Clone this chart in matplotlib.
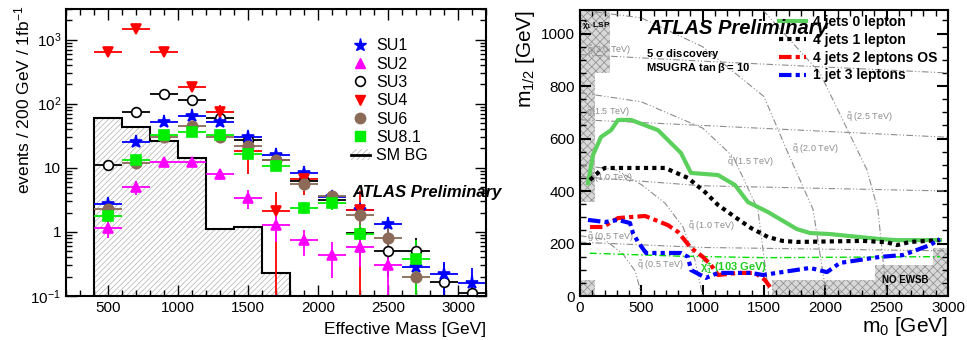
import numpy as np
import matplotlib.pyplot as plt
from matplotlib.lines import Line2D
from matplotlib.patches import Patch, Polygon
from matplotlib.ticker import MultipleLocator, FixedLocator, FixedFormatter, LogLocator, NullFormatter

plt.rcParams['font.family'] = ['Liberation Sans', 'DejaVu Sans']
plt.rcParams['mathtext.default'] = 'regular'
plt.rcParams['hatch.linewidth'] = 0.5

# ---------------- left panel data ----------------
edges = np.arange(400, 3201, 200)
centers = edges[:-1] + 100
sm_bg = [60, 44, 26, 14, 1.1, 1.2, 0.23, 0, 0, 0, 0, 0, 0, 0]

nan = np.nan
su1 = [2.7, 25, 52, 65, 52, 30, 16, 8.3, 3.5, 2.2, 1.33, 0.28, 0.22, 0.16]
su1_err = [0.7, 2, 3, 4, 3.5, 2.5, 2, 1.3, 0.8, 0.7, 0.4, 0.17, 0.12, 0.11]
su2 = [1.15, 5, 12.3, 12.3, 8, 3.4, 1.3, 0.75, 0.44, 0.58, 0.3, nan, nan, nan]
su2_err = [0.35, 1.2, 2, 2, 1.6, 1.1, 0.6, 0.33, 0.25, 0.3, 0.25, nan, nan, nan]
su3 = [11, 75, 144, 115, 60, 27, 13, 6.3, 3.1, 0.95, 0.5, 0.5, 0.165, 0.11]
su3_err = [1.5, 5, 8, 7, 5, 3, 2, 1.2, 0.8, 0.45, 0.3, 0.3, 0.15, 0.1]
su4 = [650, 1480, 640, 185, 75, 18, 2.1, 6.7, nan, 2.2, nan, nan, nan, nan]
su4_err = [60, 100, 60, 30, 20, 10, 2.1, 3, nan, 2.2, nan, nan, nan, nan]
su6 = [2.3, 12, 30, 45, 30, 22, 13, 5.6, 3.6, 1.85, 0.81, 0.2, nan, nan]
su6_err = [0.5, 1.5, 3, 4, 3, 2.5, 2, 1.2, 0.8, 0.55, 0.35, 0.15, nan, nan]
su81 = [1.8, 13, 32, 36, 32, 16.6, 10.5, 2.4, 2.8, 0.93, nan, 0.38, nan, nan]
su81_err = [0.45, 1.5, 2.5, 2.7, 2.5, 1.8, 1.4, 0.5, 0.6, 0.35, nan, 0.38, nan, nan]

# ---------------- right panel data ----------------
green_m0 = [65, 106, 171, 253, 310, 416, 636, 823, 905, 1125, 1263, 1369, 1532, 1768, 1875, 2038, 2445, 2584, 2934]
green_m12 = [430, 537, 606, 632, 671, 671, 632, 545, 469, 461, 423, 358, 320, 255, 240, 236, 217, 213, 213]
black_m0 = [81, 171, 204, 693, 880, 1019, 1125, 1263, 1394, 1532, 1650, 1768, 2306, 2500, 2584, 2690, 2934]
black_m12 = [442, 480, 488, 488, 450, 396, 347, 301, 259, 225, 210, 206, 210, 205, 194, 206, 213]
red_m0 = [81, 187, 310, 416, 530, 611, 717, 799, 905, 1002, 1068, 1125, 1288, 1426, 1508, 1549]
red_m12 = [263, 263, 297, 301, 305, 290, 270, 244, 183, 149, 118, 80, 88, 88, 61, 34]
blue_m0 = [65, 204, 310, 408, 432, 473, 538, 823, 880, 905, 1027, 1125, 1394, 1491, 1875, 2013, 2119, 2445, 2633, 2853, 2934]
blue_m12 = [290, 282, 290, 278, 240, 206, 164, 164, 149, 99, 69, 88, 88, 80, 107, 91, 126, 149, 156, 194, 217]
chargino_m0 = [80, 800, 1500, 2934]
chargino_m12 = [163, 152, 146, 150]

gluino_m0 = [0, 1000, 3000]
gluino_lines = {
    '0.5': [205, 185, 172],
    '1.0': [455, 420, 400],
    '1.5': [672, 650, 605],
    '2.0': [920, 895, 850],
}
squark_lines = {
    '0.5': ([0, 200, 350, 450, 505], [230, 215, 160, 95, 0]),
    '1.0': ([0, 300, 505, 693, 840, 937, 1000], [500, 480, 423, 354, 263, 137, 0]),
    '1.5': ([0, 500, 1000, 1250, 1450, 1540], [775, 740, 640, 530, 330, 0]),
    '2.0': ([0, 500, 1000, 1500, 1700, 1900, 2010], [1090, 1060, 950, 760, 540, 330, 0]),
    '2.5': ([1490, 1956, 2340, 2429, 2500], [1090, 850, 480, 328, 0]),
}
lsp_top = [(0, 850), (245, 850), (245, 1090), (0, 1090)]
lsp_strip = [(0, 360), (122, 360), (122, 850), (0, 850)]
lsp_bottom = [(0, 0), (122, 0), (122, 61), (0, 61)]
no_ewsb = [(1565, 0), (1565, 61), (2404, 61), (2404, 118), (2877, 118), (2877, 183), (3000, 183), (3000, 0)]

fig = plt.figure(figsize=(9.67, 3.4), dpi=100)
ax = fig.add_axes([66 / 967, 44 / 340, 420 / 967, 287 / 340])
ax2 = fig.add_axes([580 / 967, 44 / 340, 368 / 967, 286 / 340])

# ---- left: effective mass ----
sm_draw = np.maximum(sm_bg, 1e-3)
ax.stairs(sm_draw, edges, baseline=1e-3, fill=True, facecolor='white',
          edgecolor='#b0b0b0', hatch='//////', linewidth=0)
ax.stairs(sm_draw, edges, baseline=1e-3, color='black', linewidth=1.5)

series = [
    (su3, su3_err, 'o', 'black', 'white', 7, 'SU3'),
    (su1, su1_err, '*', 'blue', 'blue', 9.5, 'SU1'),
    (su4, su4_err, 'v', 'red', 'red', 7.5, 'SU4'),
    (su6, su6_err, 'o', '#8b6a57', '#8b6a57', 7.5, 'SU6'),
    (su81, su81_err, 's', '#00ee00', '#00ee00', 7, 'SU8.1'),
    (su2, su2_err, '^', 'magenta', 'magenta', 7.5, 'SU2'),
]
for vals, errs, mk, col, fc, ms, lab in series:
    ax.errorbar(centers, vals, xerr=100, yerr=errs, fmt=mk, color=col, mfc=fc,
                mec=col if fc != 'white' else 'black', ms=ms, elinewidth=1.3,
                capsize=0, mew=1.2)

ax.set_yscale('log')
ax.set_xlim(200, 3200)
ax.set_ylim(0.1, 3000)
ax.xaxis.set_major_locator(MultipleLocator(500))
ax.xaxis.set_minor_locator(MultipleLocator(100))
ax.yaxis.set_major_locator(FixedLocator([0.1, 1, 10, 100, 1000]))
ax.yaxis.set_major_formatter(FixedFormatter(['$10^{-1}$', '1', '10', '$10^{2}$', '$10^{3}$']))
ax.yaxis.set_minor_locator(LogLocator(base=10, subs=np.arange(2, 10)))
ax.yaxis.set_minor_formatter(NullFormatter())
ax.tick_params(which='both', direction='in', top=True, right=True, labelsize=11)
ax.tick_params(which='major', length=8, width=1)
ax.tick_params(which='minor', length=4, width=1)
for s in ax.spines.values():
    s.set_linewidth(1.5)
ax.set_ylabel('events / 200 GeV / 1fb$^{-1}$', fontsize=12.5)
ax.yaxis.set_label_coords(-0.08, 1.012)
ax.yaxis.label.set_ha('right')
ax.set_xlabel('Effective Mass [GeV]', fontsize=12.5, loc='right', labelpad=5)

leg_handles = [
    Line2D([], [], marker='*', color='blue', ls='none', ms=9.5),
    Line2D([], [], marker='^', color='magenta', ls='none', ms=7.5),
    Line2D([], [], marker='o', mfc='white', mec='black', ls='none', ms=7, mew=1.2),
    Line2D([], [], marker='v', color='red', ls='none', ms=7.5),
    Line2D([], [], marker='o', color='#8b6a57', ls='none', ms=7.5),
    Line2D([], [], marker='s', color='#00ee00', ls='none', ms=7),
    (Patch(facecolor='white', edgecolor='#b0b0b0', hatch='//////', lw=0),
     Line2D([], [], color='black', lw=2)),
]
leg_labels = ['SU1', 'SU2', 'SU3', 'SU4', 'SU6', 'SU8.1', 'SM BG']
ax.legend(leg_handles, leg_labels, loc='upper left', bbox_to_anchor=(0.678, 0.898),
          frameon=False, fontsize=11.5, handlelength=1.2, handletextpad=0.4,
          labelspacing=0.21, borderpad=0, borderaxespad=0)
ax.text(0.681, 0.345, 'ATLAS Preliminary', transform=ax.transAxes, fontsize=12,
        fontweight='bold', fontstyle='italic', clip_on=False)

# ---- right: mSUGRA reach ----
for poly in [lsp_top, lsp_strip, lsp_bottom, no_ewsb]:
    ax2.add_patch(Polygon(poly, closed=True, facecolor='#d8d8d8', edgecolor='#8a8a8a',
                          hatch='xxxx', lw=0, zorder=1))

gray_ls = (0, (6, 2, 1, 2, 1, 2))
for key, vals in gluino_lines.items():
    ax2.plot(gluino_m0, vals, color='#8c8c8c', lw=0.8, ls=gray_ls, zorder=2)
for key, (xs, ys) in squark_lines.items():
    ax2.plot(xs, ys, color='#8c8c8c', lw=0.8, ls=gray_ls, zorder=2)

lab_kw = dict(color='#8c8c8c', fontsize=6.5, zorder=3)
ax2.text(60, 925, r'$\tilde{g}$(2.0 TeV)', **lab_kw)
ax2.text(50, 690, r'$\tilde{g}$(1.5 TeV)', **lab_kw)
ax2.text(75, 440, r'$\tilde{g}$(1.0 TeV)', **lab_kw)
ax2.text(60, 215, r'$\tilde{g}$ (0.5 TeV)', **lab_kw)
ax2.text(465, 105, r'$\tilde{q}$ (0.5 TeV)', **lab_kw)
ax2.text(880, 255, r'$\tilde{q}$ (1.0 TeV)', **lab_kw)
ax2.text(1195, 500, r'$\tilde{q}$ (1.5 TeV)', **lab_kw)
ax2.text(1730, 548, r'$\tilde{q}$ (2.0 TeV)', **lab_kw)
ax2.text(2170, 670, r'$\tilde{q}$ (2.5 TeV)', **lab_kw)

ax2.plot(chargino_m0, chargino_m12, color='#00e000', lw=1, ls=(0, (5, 2, 1, 2)), zorder=3)
ax2.text(975, 95, r'$\tilde{\chi}^{\pm}_{1}$ (103 GeV)', color='#22cc22', fontsize=8,
         fontweight='bold', zorder=4)

l1, = ax2.plot(green_m0, green_m12, color='#5cd05c', lw=3, zorder=5)
l2, = ax2.plot(black_m0, black_m12, color='black', lw=3, ls=(0, (1, 1)), zorder=5)
l3, = ax2.plot(red_m0, red_m12, color='red', lw=3, ls=(0, (3, 1, 1, 1)), zorder=5)
l4, = ax2.plot(blue_m0, blue_m12, color='blue', lw=3, ls=(0, (3, 1, 1, 1, 1, 1)), zorder=5)

ax2.text(20, 1020, r'$\tilde{\chi}_1$ LSP', fontsize=6, fontweight='bold', zorder=4)
ax2.text(2650, 50, 'NO EWSB', fontsize=7, fontweight='bold', ha='center', zorder=4)
ax2.text(546, 998, 'ATLAS Preliminary', fontsize=14.5, fontweight='bold',
         fontstyle='italic', zorder=6)
ax2.text(538, 910, r'5 $\sigma$ discovery', fontsize=8, fontweight='bold', zorder=6)
ax2.text(538, 856, r'MSUGRA tan$\,\beta$ = 10', fontsize=8, fontweight='bold', zorder=6)

ax2.legend([l1, l2, l3, l4], ['4 jets 0 lepton', '4 jets 1 lepton', '4 jets 2 leptons OS',
                              '1 jet 3 leptons'],
           loc='upper left', bbox_to_anchor=(0.54, 0.982), frameon=False,
           prop=dict(weight='bold', size=10), handlelength=2.0, handletextpad=0.5,
           labelspacing=0.27, borderpad=0, borderaxespad=0)

ax2.set_xlim(0, 3000)
ax2.set_ylim(0, 1090)
ax2.xaxis.set_major_locator(MultipleLocator(500))
ax2.xaxis.set_minor_locator(MultipleLocator(100))
ax2.yaxis.set_major_locator(MultipleLocator(200))
ax2.yaxis.set_minor_locator(MultipleLocator(50))
ax2.tick_params(which='both', direction='in', top=True, right=True, labelsize=11)
ax2.tick_params(which='major', length=8, width=1.5)
ax2.tick_params(which='minor', length=4, width=1)
for s in ax2.spines.values():
    s.set_linewidth(1.5)
ax2.set_ylabel('m$_{1/2}$ [GeV]', fontsize=15, loc='top')
ax2.yaxis.set_label_coords(-0.117, 1.0)
ax2.set_xlabel('m$_0$ [GeV]', fontsize=15, loc='right', labelpad=0)

fig.savefig('out.png', dpi=100)
